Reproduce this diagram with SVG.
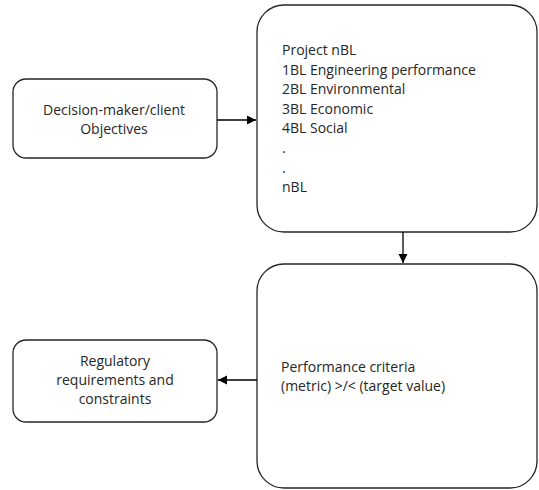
<svg xmlns="http://www.w3.org/2000/svg" width="539" height="490" viewBox="0 0 539 490">
  <style>
    .box { fill: #ffffff; stroke: #262626; stroke-width: 1.3; }
    .lbl { font-family: "Open Sans", "Noto Sans", sans-serif; font-size: 14px; fill: #262626; }
    .mid { text-anchor: middle; }
    .conn { stroke: #000000; stroke-width: 1.3; fill: none; }
  </style>
  <defs>
    <marker id="arrow" markerWidth="10" markerHeight="10" refX="9" refY="5" orient="auto" markerUnits="userSpaceOnUse">
      <path d="M0,0.5 L9,5 L0,9.5 Z" fill="#000000"/>
    </marker>
  </defs>
  <rect width="539" height="490" fill="#ffffff"/>

  <g id="objectives">
    <rect class="box" x="13" y="79" width="204" height="79" rx="13" ry="13"/>
    <text class="lbl mid" x="114" y="115">Decision-maker/client</text>
    <text class="lbl mid" x="114" y="134">Objectives</text>
  </g>

  <g id="project-nbl">
    <rect class="box" x="257" y="5" width="280" height="227" rx="27" ry="27"/>
    <text class="lbl" x="282" y="55">Project nBL</text>
    <text class="lbl" x="282" y="74.6">1BL Engineering performance</text>
    <text class="lbl" x="282" y="94.2">2BL Environmental</text>
    <text class="lbl" x="282" y="113.8">3BL Economic</text>
    <text class="lbl" x="282" y="133.4">4BL Social</text>
    <text class="lbl" x="282" y="153">.</text>
    <text class="lbl" x="282" y="172.6">.</text>
    <text class="lbl" x="282" y="192.2">nBL</text>
  </g>

  <g id="performance">
    <rect class="box" x="257" y="264" width="280" height="224" rx="27" ry="27"/>
    <text class="lbl" x="281" y="372">Performance criteria</text>
    <text class="lbl" x="281" y="391">(metric) &gt;/&lt; (target value)</text>
  </g>

  <g id="regulatory">
    <rect class="box" x="13" y="340" width="204" height="82" rx="13" ry="13"/>
    <text class="lbl mid" x="115" y="366">Regulatory</text>
    <text class="lbl mid" x="115" y="385">requirements and</text>
    <text class="lbl mid" x="115" y="404">constraints</text>
  </g>

  <g id="connectors">
    <line class="conn" x1="217" y1="120" x2="256" y2="120" marker-end="url(#arrow)"/>
    <line class="conn" x1="403" y1="232" x2="403" y2="263" marker-end="url(#arrow)"/>
    <line class="conn" x1="257" y1="380" x2="218" y2="380" marker-end="url(#arrow)"/>
  </g>
</svg>
